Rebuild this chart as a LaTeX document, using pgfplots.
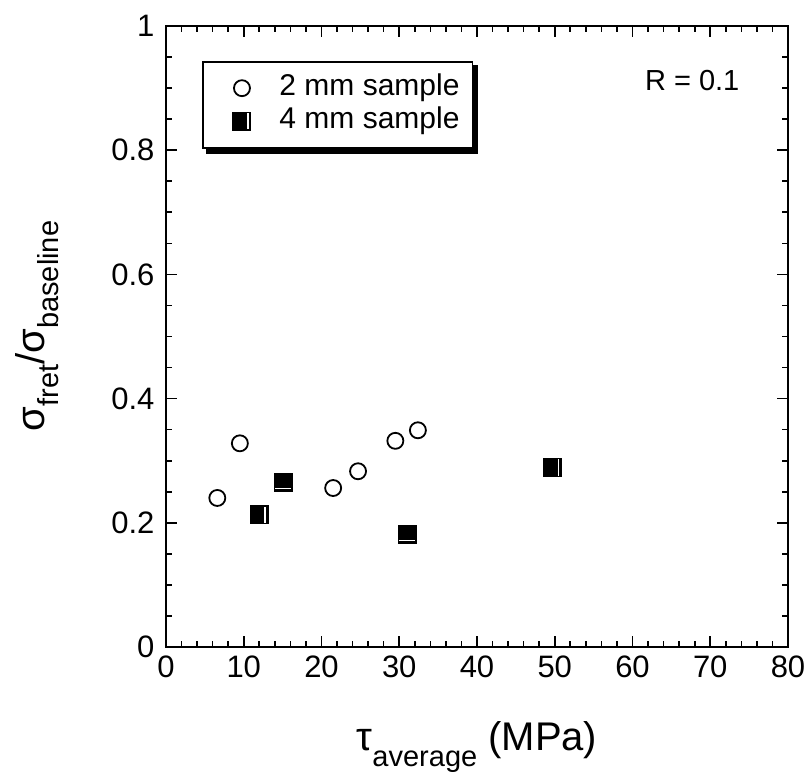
\documentclass[border=0pt]{standalone}
\usepackage{pgfplots}
\pgfplotsset{compat=1.18}
\usepackage{fontspec}
\setmainfont{Liberation Sans}

% filled square with a white bar near the right edge
\pgfdeclareplotmark{sqv}{%
  \pgfpathrectangle{\pgfpoint{-\pgfplotmarksize}{-\pgfplotmarksize}}{\pgfpoint{2\pgfplotmarksize}{2\pgfplotmarksize}}%
  \pgfsetfillcolor{black}\pgfusepathqfill
  \pgfsetstrokecolor{white}\pgfsetlinewidth{1.4pt}%
  \pgfpathmoveto{\pgfpoint{0.62\pgfplotmarksize}{-0.85\pgfplotmarksize}}%
  \pgfpathlineto{\pgfpoint{0.62\pgfplotmarksize}{0.85\pgfplotmarksize}}%
  \pgfusepathqstroke}
% filled square with a white bar near the bottom edge
\pgfdeclareplotmark{sqh}{%
  \pgfpathrectangle{\pgfpoint{-\pgfplotmarksize}{-\pgfplotmarksize}}{\pgfpoint{2\pgfplotmarksize}{2\pgfplotmarksize}}%
  \pgfsetfillcolor{black}\pgfusepathqfill
  \pgfsetstrokecolor{white}\pgfsetlinewidth{1.4pt}%
  \pgfpathmoveto{\pgfpoint{-0.85\pgfplotmarksize}{-0.62\pgfplotmarksize}}%
  \pgfpathlineto{\pgfpoint{0.85\pgfplotmarksize}{-0.62\pgfplotmarksize}}%
  \pgfusepathqstroke}

\newcommand{\sub}[2][-0.42em]{\raisebox{#1}{\fontsize{29}{29}\selectfont #2}}

\begin{document}
\begin{tikzpicture}
\path[use as bounding box] (-166pt,-133pt) rectangle (643pt,647pt);
\begin{axis}[
  scale only axis,
  width=622pt, height=621pt,
  xmin=0, xmax=80, ymin=0, ymax=1,
  xtick={0,10,...,80},
  ytick={0,0.2,0.4,0.6,0.8,1},
  minor x tick num=4,
  minor y tick num=3,
  tick align=inside,
  major tick length=11pt,
  minor tick length=6pt,
  axis line style={line width=2.6pt},
  every tick/.style={line width=1.6pt, black},
  tick label style={font=\fontsize{31}{35}\selectfont},
  /pgf/number format/assume math mode=true,
  xticklabel style={yshift=-5pt},
  yticklabel style={xshift=-8pt},
  xlabel={τ\sub{average} (MPa)},
  xlabel style={font=\fontsize{40}{44}\selectfont, at={(axis description cs:0.5,0)}, anchor=base, yshift=-103pt},
  ylabel={σ\sub[-0.35em]{fret}/σ\sub[-0.35em]{baseline}},
  ylabel style={font=\fontsize{40}{44}\selectfont, at={(axis description cs:-0.196,0.517)}, anchor=base},
  legend style={name=leg, at={(axis description cs:0.058,0.944)}, anchor=north west,
    draw=black, line width=1.8pt, fill=white,
    font=\fontsize{30}{34}\selectfont,
    inner xsep=12pt, inner ysep=11.5pt, row sep=3pt, column sep=27pt,
    nodes={inner sep=1pt, text height=21pt, text depth=7pt}},
  legend image code/.code={%
    \path[draw=none, fill=none] (-27pt,-9pt) rectangle (9pt,9pt);
    \draw[#1] plot coordinates {(0pt,0pt)};},
  legend cell align=left,
]
\addplot[only marks, mark=o, mark size=8pt, mark options={line width=1.8pt, black}]
  coordinates {(6.6,0.240) (9.5,0.328) (21.5,0.256) (24.7,0.283) (29.5,0.332) (32.4,0.349)};
\addlegendentry{2 mm sample}
\addplot[only marks, mark=sqv, mark size=9.5pt]
  coordinates {(12.0,0.213) (49.7,0.289)};
\addlegendentry{4 mm sample}
\addplot[only marks, mark=sqh, mark size=9.5pt, forget plot]
  coordinates {(15.1,0.265) (31.0,0.181)};
\node[font=\fontsize{29}{33}\selectfont] at (axis description cs:0.846,0.913) {R = 0.1};
\end{axis}
% drop shadow along the lower and right edges of the legend box
\fill[black] ([xshift=4pt,yshift=-5pt]leg.south west) rectangle ([xshift=5pt]leg.south east);
\fill[black] ([xshift=0pt,yshift=-4pt]leg.north east) rectangle ([xshift=5pt,yshift=-5pt]leg.south east);
\end{tikzpicture}
\end{document}
